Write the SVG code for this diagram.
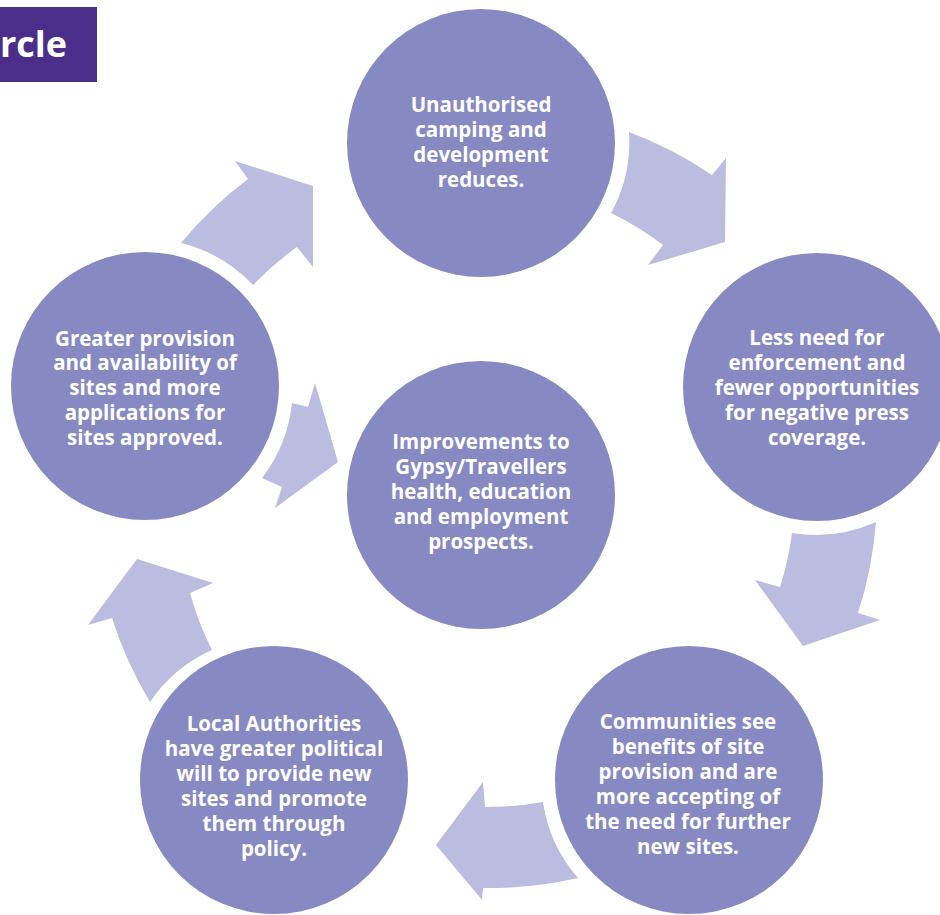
<svg xmlns="http://www.w3.org/2000/svg" width="940" height="915" viewBox="0 0 940 915">
<style>
.node{fill:#8789c3}
.arrow{fill:#bbbde0}
.t{font-family:"Open Sans","Liberation Sans",sans-serif;font-weight:bold;font-size:20.5px;fill:#ffffff;text-anchor:middle}
.title{font-family:"Open Sans","Liberation Sans",sans-serif;font-weight:bold;font-size:36px;fill:#ffffff}
</style>
<rect width="940" height="915" fill="#ffffff"/>
<g id="title">
<rect x="0" y="7" width="97" height="75" fill="#4b2d8a"/>
<text class="title" x="0" y="57">rcle</text>
</g>
<g id="connectors">
<path class="arrow" d="M181,243 A393,393 0 0 1 248,179 L235,161 L313,186 L313,267 L297,247 A310,310 0 0 0 253,285 A148,148 0 0 0 181,243 Z"/>
<path class="arrow" d="M629,132 A393,393 0 0 1 712,175 L726,158 L725,242 L648,265 L663,245 A310,310 0 0 0 611,213 A148,148 0 0 0 629,132 Z"/>
<path class="arrow" d="M876,522 A394,394 0 0 1 858,613 L880,620 L803,646 L755,580 L780,587 A312,312 0 0 0 792,533 A148,148 0 0 0 876,522 Z"/>
<path class="arrow" d="M578,878 A394,394 0 0 1 483,888 L482,900 L436,845 L483,782 L485,807 A312,312 0 0 0 543,802 A148,148 0 0 0 578,878 Z"/>
<path class="arrow" d="M150,702 A390,390 0 0 1 112,618 L88,625 L137,559 L213,583 L190,593 A309,309 0 0 0 212,650 A147,147 0 0 0 150,702 Z"/>
<path class="arrow" d="M292,403 L308,407 L315,383 L338,462 L275,508 L282,487 L262,478 A148,148 0 0 0 292,403 Z"/>
</g>
<g id="node-top">
<circle class="node" cx="481" cy="143" r="134"/>
<text class="t"><tspan x="481" y="112">Unauthorised</tspan><tspan x="481" y="137">camping and</tspan><tspan x="481" y="162">development</tspan><tspan x="481" y="187">reduces.</tspan></text>
</g>
<g id="node-right">
<circle class="node" cx="817" cy="387" r="134"/>
<text class="t"><tspan x="817" y="345">Less need for</tspan><tspan x="817" y="370">enforcement and</tspan><tspan x="817" y="395">fewer opportunities</tspan><tspan x="817" y="420">for negative press</tspan><tspan x="817" y="445">coverage.</tspan></text>
</g>
<g id="node-bottom-right">
<circle class="node" cx="689" cy="780" r="134"/>
<text class="t"><tspan x="688" y="729">Communities see</tspan><tspan x="688" y="754">benefits of site</tspan><tspan x="688" y="779">provision and are</tspan><tspan x="688" y="804">more accepting of</tspan><tspan x="688" y="829">the need for further</tspan><tspan x="688" y="854">new sites.</tspan></text>
</g>
<g id="node-bottom-left">
<circle class="node" cx="274" cy="780" r="134"/>
<text class="t"><tspan x="274" y="731">Local Authorities</tspan><tspan x="274" y="756">have greater political</tspan><tspan x="274" y="781">will to provide new</tspan><tspan x="274" y="806">sites and promote</tspan><tspan x="274" y="831">them through</tspan><tspan x="274" y="856">policy.</tspan></text>
</g>
<g id="node-left">
<circle class="node" cx="145" cy="386" r="134"/>
<text class="t"><tspan x="145" y="346">Greater provision</tspan><tspan x="145" y="370">and availability of</tspan><tspan x="145" y="395">sites and more</tspan><tspan x="145" y="420">applications for</tspan><tspan x="145" y="445">sites approved.</tspan></text>
</g>
<g id="node-center">
<circle class="node" cx="481" cy="495" r="134"/>
<text class="t"><tspan x="481" y="449">Improvements to</tspan><tspan x="481" y="474">Gypsy/Travellers</tspan><tspan x="481" y="499">health, education</tspan><tspan x="481" y="524">and employment</tspan><tspan x="481" y="549">prospects.</tspan></text>
</g>
</svg>
